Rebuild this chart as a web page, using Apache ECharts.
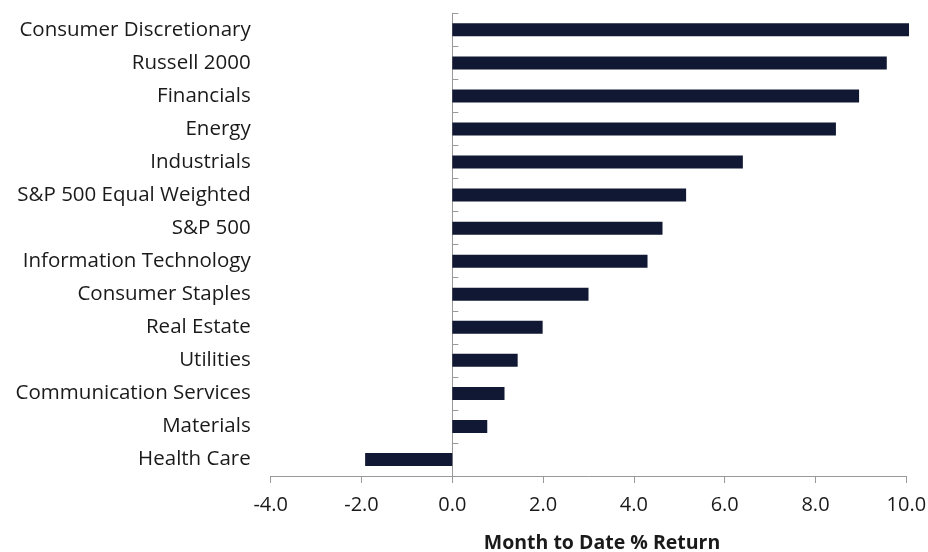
<!DOCTYPE html>
<html>
<head>
<meta charset="utf-8">
<script src="https://cdn.jsdelivr.net/npm/echarts@6/dist/echarts.min.js"></script>
<style>html,body{margin:0;padding:0;background:#fff}#c{width:928px;height:552px}</style>
</head>
<body>
<div id="c"></div>
<script>
const categories = ["Consumer Discretionary","Russell 2000","Financials","Energy","Industrials","S&P 500 Equal Weighted","S&P 500","Information Technology","Consumer Staples","Real Estate","Utilities","Communication Services","Materials","Health Care"];
const values = [10.06, 9.57, 8.96, 8.45, 6.40, 5.15, 4.63, 4.30, 3.00, 1.99, 1.44, 1.15, 0.77, -1.92];
const xTicks = {min: -4, max: 10, interval: 2};
const axisTitle = "Month to Date % Return";

const font = "'Open Sans', sans-serif";
const chart = echarts.init(document.getElementById('c'), null, {renderer: 'canvas'});
chart.setOption({
  animation: false,
  grid: {left: 270.7, right: 21.7, top: 13.3, bottom: 76, containLabel: false, outerBoundsMode: 'none'},
  xAxis: {
    type: 'value', min: xTicks.min, max: xTicks.max, interval: xTicks.interval,
    axisLine: {show: true, onZero: false, lineStyle: {color: '#999', width: 1}},
    axisTick: {show: true, length: 7, lineStyle: {color: '#999'}},
    splitLine: {show: false},
    axisLabel: {color: '#1a1a1a', fontSize: 20, fontFamily: font, margin: 19, formatter: v => v.toFixed(1)},
    name: axisTitle, nameLocation: 'middle', nameGap: 57,
    nameTextStyle: {color: '#1a1a1a', fontSize: 19.5, fontWeight: 'bold', fontFamily: font, padding: [0, 0, 0, 27]}
  },
  yAxis: [
    {
      type: 'category', data: categories, inverse: true,
      axisLine: {show: false, onZero: false}, axisTick: {show: false},
      axisLabel: {color: '#1a1a1a', fontSize: 20.5, fontFamily: font, margin: 20}
    },
    {
      type: 'category', data: categories, inverse: true,
      axisLine: {show: true, onZero: true, lineStyle: {color: '#999', width: 1}},
      axisTick: {show: true, length: 6, lineStyle: {color: '#999'}},
      axisLabel: {show: false}
    }
  ],
  series: [{
    type: 'bar', data: values, yAxisIndex: 0, barWidth: 13, clip: false,
    itemStyle: {color: '#111833'}
  }]
});
</script>
</body>
</html>
